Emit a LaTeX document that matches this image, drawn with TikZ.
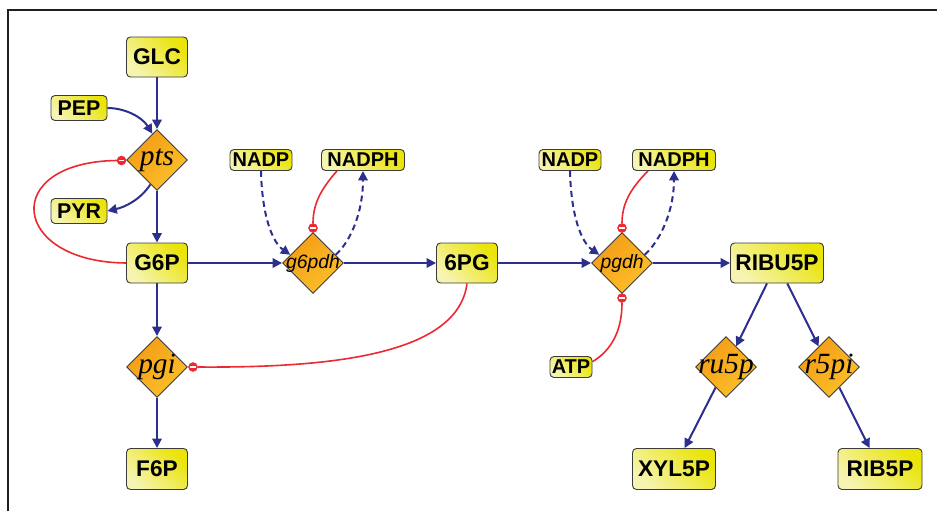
\documentclass[tikz,border=0pt]{standalone}
\usepackage{fontspec}
\setmainfont{Liberation Sans}
\newfontfamily\enzserif{Liberation Serif}
\usetikzlibrary{shapes.geometric, arrows.meta}

\definecolor{pathblue}{RGB}{44,48,140}
\definecolor{inhred}{RGB}{236,40,48}
\definecolor{boxlight}{RGB}{246,244,178}
\definecolor{boxbright}{RGB}{234,228,8}
\definecolor{enzdark}{RGB}{243,156,22}
\definecolor{enzlight}{RGB}{252,192,42}
\definecolor{edgegray}{RGB}{60,60,60}
\definecolor{framegray}{RGB}{35,31,32}

\begin{document}
\begin{tikzpicture}[x=0.75pt, y=-0.75pt,
  species/.style={rectangle, rounded corners=3pt, draw=edgegray, line width=0.7pt,
    top color=boxbright, bottom color=boxlight, shading angle=-45,
    inner sep=0pt, font=\fontsize{17}{17}\selectfont\bfseries},
  big/.style={species, minimum width=45.75pt, minimum height=30pt},
  small/.style={species, minimum height=15.75pt, font=\fontsize{15}{15}\selectfont\bfseries},
  mid/.style={species, minimum height=18.75pt, minimum width=42pt, font=\fontsize{16}{16}\selectfont\bfseries},
  enzyme/.style={diamond, aspect=1, draw=edgegray, line width=0.7pt,
    top color=enzdark, bottom color=enzlight, shading angle=45,
    inner sep=0pt, minimum width=45.75pt, minimum height=45.75pt},
  enzit/.style={font=\fontsize{22}{22}\selectfont\enzserif\itshape},
  enzsf/.style={font=\fontsize{14.5}{14.5}\selectfont\itshape},
  flow/.style={draw=pathblue, line width=1.5pt, -{Triangle[length=7pt,width=7pt]}},
  cofactor/.style={flow, dash pattern=on 4.5pt off 3pt},
  inhib/.style={draw=inhred, line width=1.2pt},
  inhmark/.style={circle, fill=inhred, draw=inhred, line width=0.6pt, inner sep=0pt, minimum size=6.5pt,
    path picture={\draw[white, line width=0.9pt]
      ([xshift=-2pt]path picture bounding box.center) -- ([xshift=2pt]path picture bounding box.center);}}
]
\useasboundingbox (0,0) rectangle (937,511);

% frame
\draw[framegray, line width=1.5pt] (8,511) -- (8,10) -- (937,10);

% metabolites
\node[big] (GLC) at (157,57) {GLC};
\node[mid] (PEP) at (79,108) {PEP};
\node[mid] (PYR) at (79,211) {PYR};
\node[big] (G6P) at (157,263) {G6P};
\node[small, minimum width=46.5pt] (NADPa) at (261,160) {NADP};
\node[small, minimum width=62.25pt] (NADPHa) at (363,160) {NADPH};
\node[big] (n6PG) at (467,263) {6PG};
\node[small, minimum width=46.5pt] (NADPb) at (570,160) {NADP};
\node[small, minimum width=62.25pt] (NADPHb) at (674,160) {NADPH};
\node[small, minimum width=31.5pt] (ATP) at (571,367) {ATP};
\node[big, minimum width=69.75pt] (RIBU5P) at (777,263) {RIBU5P};
\node[big, minimum width=62.25pt, minimum height=30.75pt] (XYL5P) at (674,469) {XYL5P};
\node[big, minimum width=63pt, minimum height=30.75pt] (RIB5P) at (880,469) {RIB5P};
\node[big, minimum height=30.75pt] (F6P) at (157,469) {F6P};

% enzymes
\node[enzyme, enzit] (pts) at (157,160) {\makebox[0pt]{pts}};
\node[enzyme, enzsf] (g6pdh) at (313,263) {\makebox[0pt]{g6pdh}};
\node[enzyme, enzsf] (pgdh) at (622,263) {\makebox[0pt]{pgdh}};
\node[enzyme, enzit] (pgi) at (157,367) {\makebox[0pt]{pgi}};
\node[enzyme, enzit] (ru5p) at (726,367) {\makebox[0pt]{ru5p}};
\node[enzyme, enzit] (r5pi) at (829,367) {\makebox[0pt]{r5pi}};

% main flux
\draw[flow] (GLC) -- (pts);
\draw[flow] (PEP.east) .. controls (125,108) and (142,117) .. (pts.100);
\draw[flow] (pts.255) .. controls (140,200) and (125,207) .. (PYR.east);
\draw[flow] (pts) -- (G6P);
\draw[flow] (G6P) -- (g6pdh);
\draw[flow] (g6pdh) -- (n6PG);
\draw[flow] (n6PG) -- (pgdh);
\draw[flow] (pgdh) -- (RIBU5P);
\draw[flow] (RIBU5P) -- (ru5p);
\draw[flow] (RIBU5P) -- (r5pi);
\draw[flow] (ru5p) -- (XYL5P);
\draw[flow] (r5pi) -- (RIB5P);
\draw[flow] (G6P) -- (pgi);
\draw[flow] (pgi) -- (F6P);

% cofactors
\draw[cofactor] (NADPa.south) .. controls (262,215) and (272,242) .. (g6pdh.160);
\draw[cofactor] (g6pdh.20) .. controls (352,240) and (363,210) .. (NADPHa.south);
\draw[cofactor] (NADPb.south) .. controls (571,215) and (581,242) .. (pgdh.160);
\draw[cofactor] (pgdh.20) .. controls (661,240) and (674,210) .. (NADPHb.south);

% inhibition markers
\node[inhmark] (ipts) at (121.5,160.5) {};
\node[inhmark] (ig6pdh) at (313,228) {};
\node[inhmark] (ipgdhT) at (622,228) {};
\node[inhmark] (ipgdhB) at (622,298) {};
\node[inhmark] (ipgi) at (193,367) {};

% inhibitions
\draw[inhib] (G6P.west) .. controls (10,262) and (0,162) .. (ipts.west);
\draw[inhib] ([xshift=-19.5pt]NADPHa.south) .. controls (320,190) and (313,205) .. (ig6pdh.north);
\draw[inhib] ([xshift=-19.5pt]NADPHb.south) .. controls (629,190) and (622,205) .. (ipgdhT.north);
\draw[inhib] ([yshift=4pt]ATP.east) .. controls (612,350) and (622,330) .. (ipgdhB.south);
\draw[inhib] (n6PG.south) .. controls (458,355) and (330,368) .. (ipgi.east);

\end{tikzpicture}
\end{document}
